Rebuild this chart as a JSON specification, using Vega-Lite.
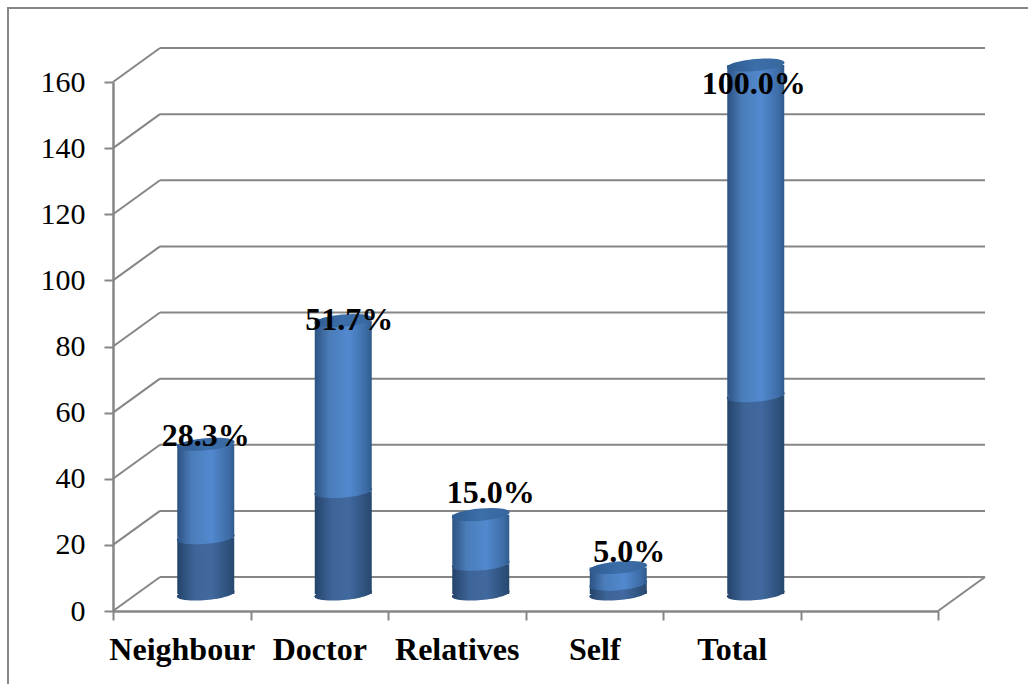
{
"$schema":"https://vega.github.io/schema/vega-lite/v6.json",
"width":825,"height":529,
"autosize":"none",
"padding":{"left":113,"top":82,"right":90,"bottom":73},
"background":"white",
"config":{"view":{"stroke":null}},
"datasets":{
"bars":[
{"name":"Neighbour","slot":0.5,"base":0,"count":17,"percent":28.3,"total":45.3,"label":"28.3%"},
{"name":"Doctor","slot":1.5,"base":0,"count":31,"percent":51.7,"total":82.7,"label":"51.7%"},
{"name":"Relatives","slot":2.5,"base":0,"count":9,"percent":15.0,"total":24,"label":"15.0%"},
{"name":"Self","slot":3.5,"base":0,"count":3,"percent":5.0,"total":8,"label":"5.0%"},
{"name":"Total","slot":4.5,"base":0,"count":60,"percent":100.0,"total":160,"label":"100.0%"}
],
"levels":[{"level":0,"start":0,"end":6},{"level":20,"start":0,"end":6},{"level":40,"start":0,"end":6},{"level":60,"start":0,"end":6},{"level":80,"start":0,"end":6},{"level":100,"start":0,"end":6},{"level":120,"start":0,"end":6},{"level":140,"start":0,"end":6},{"level":160,"start":0,"end":6}]
},
"layer":[
{"mark":{"type":"rect","fill":"transparent","stroke":"#868686","strokeWidth":2},
 "data":{"values":[{"a":-0.7636,"b":6.8,"c":182.4,"d":-24}]},
 "encoding":{
  "x":{"field":"a","type":"quantitative","scale":{"domain":[0,6],"range":[0,825],"nice":false,"zero":false,"padding":0},
    "axis":{"values":[0,0.5,1,1.5,2,2.5,3,3.5,4,4.5,5,5.5,6],"title":null,"grid":false,"domain":true,"domainColor":"#868686","domainWidth":2.5,
      "tickColor":"#868686","tickWidth":2,"tickSize":9,"tickOpacity":{"expr":"datum.value % 1 === 0 ? 1 : 0"},
      "labelExpr":"datum.value==0.5?'Neighbour':datum.value==1.5?'Doctor':datum.value==2.5?'Relatives':datum.value==3.5?'Self':datum.value==4.5?'Total':''",
      "labelFont":"Liberation Serif","labelFontWeight":"bold","labelFontSize":32,"labelColor":"black","labelPadding":39,"labelBaseline":"alphabetic","labelOverlap":false,"labelFlush":false,"labelAngle":0}},
  "x2":{"field":"b"},
  "y":{"field":"c","type":"quantitative","scale":{"domain":[0,160],"nice":false,"zero":false,"padding":0},
    "axis":{"values":[0,20,40,60,80,100,120,140,160],"title":null,"grid":false,"domain":true,"domainColor":"#868686","domainWidth":2.5,
      "tickColor":"#868686","tickWidth":2,"tickSize":9,
      "labelFont":"Liberation Serif","labelFontSize":30,"labelColor":"black","labelPadding":19,"labelOverlap":false,"labelFlush":false}},
  "y2":{"field":"d"}
 }},
{"data":{"name":"levels"},"mark":{"type":"rule","color":"#868686","strokeWidth":2,"xOffset":47,"x2Offset":47,"yOffset":-34},
 "encoding":{"x":{"field":"start","type":"quantitative"},"x2":{"field":"end"},"y":{"field":"level","type":"quantitative"}}},
{"data":{"name":"levels"},"mark":{"type":"rule","color":"#868686","strokeWidth":2,"x2Offset":47,"y2Offset":-34},
 "encoding":{"x":{"field":"start","type":"quantitative"},"x2":{"field":"start"},"y":{"field":"level","type":"quantitative"},"y2":{"field":"level"}}},
{"data":{"name":"levels"},"transform":[{"filter":"datum.level===0"}],"mark":{"type":"rule","color":"#868686","strokeWidth":2,"x2Offset":47,"y2Offset":-34},
 "encoding":{"x":{"field":"end","type":"quantitative"},"x2":{"field":"end"},"y":{"field":"level","type":"quantitative"},"y2":{"field":"level"}}},
{"data":{"name":"bars"},"mark":{"type":"point","filled":true,"opacity":1,"shape":"M-1,0 A1,0.21 0 1 0 1,0 A1,0.21 0 1 0 -1,0 Z","size":3364,"angle":-5,"xOffset":24,"yOffset":-17,
 "color":{"gradient":"linear","x1":0,"x2":1,"y1":0,"y2":0,"stops":[{"offset":0,"color":"#24436b"},{"offset":0.3,"color":"#3e6598"},{"offset":0.6,"color":"#41699f"},{"offset":1,"color":"#27486f"}]}},
 "encoding":{"x":{"field":"slot","type":"quantitative"},"y":{"field":"base","type":"quantitative"}}},
{"data":{"name":"bars"},"mark":{"type":"bar","width":57,"xOffset":24,"yOffset":-17,"y2Offset":-17,
 "color":{"gradient":"linear","x1":0,"x2":1,"y1":0,"y2":0,"stops":[{"offset":0,"color":"#24436b"},{"offset":0.3,"color":"#3e6598"},{"offset":0.6,"color":"#41699f"},{"offset":1,"color":"#27486f"}]}},
 "encoding":{"x":{"field":"slot","type":"quantitative"},"y":{"field":"base","type":"quantitative"},"y2":{"field":"count"}}},
{"data":{"name":"bars"},"mark":{"type":"point","filled":true,"opacity":1,"shape":"M-1,0 A1,0.21 0 1 0 1,0 A1,0.21 0 1 0 -1,0 Z","size":3364,"angle":-5,"xOffset":24,"yOffset":-17,
 "color":{"gradient":"linear","x1":0,"x2":1,"y1":0,"y2":0,"stops":[{"offset":0,"color":"#2c5283"},{"offset":0.25,"color":"#4a7cb8"},{"offset":0.6,"color":"#5289cf"},{"offset":0.9,"color":"#3d6ca6"},{"offset":1,"color":"#2f5a8c"}]}},
 "encoding":{"x":{"field":"slot","type":"quantitative"},"y":{"field":"count","type":"quantitative"}}},
{"data":{"name":"bars"},"mark":{"type":"bar","width":57,"xOffset":24,"yOffset":-17,"y2Offset":-17,
 "color":{"gradient":"linear","x1":0,"x2":1,"y1":0,"y2":0,"stops":[{"offset":0,"color":"#2c5283"},{"offset":0.25,"color":"#4a7cb8"},{"offset":0.6,"color":"#5289cf"},{"offset":0.9,"color":"#3d6ca6"},{"offset":1,"color":"#2f5a8c"}]}},
 "encoding":{"x":{"field":"slot","type":"quantitative"},"y":{"field":"count","type":"quantitative"},"y2":{"field":"total"}}},
{"data":{"name":"bars"},"mark":{"type":"point","filled":true,"opacity":1,"shape":"M-1,0 A1,0.21 0 1 0 1,0 A1,0.21 0 1 0 -1,0 Z","size":3364,"angle":-5,"xOffset":24,"yOffset":-17,
 "color":{"gradient":"linear","x1":0,"x2":1,"y1":0,"y2":0,"stops":[{"offset":0,"color":"#2f5b90"},{"offset":0.5,"color":"#3c6ea9"},{"offset":1,"color":"#38679e"}]}},
 "encoding":{"x":{"field":"slot","type":"quantitative"},"y":{"field":"total","type":"quantitative"}}},
{"data":{"name":"bars"},"transform":[{"filter":"datum.name==='Neighbour'"}],"mark":{"type":"text","font":"Liberation Serif","fontWeight":"bold","fontSize":32,"color":"black","baseline":"middle","dx":24,"dy":-25},
 "encoding":{"x":{"field":"slot","type":"quantitative"},"y":{"field":"total","type":"quantitative"},"text":{"field":"label"}}},
{"data":{"name":"bars"},"transform":[{"filter":"datum.name==='Doctor'"}],"mark":{"type":"text","font":"Liberation Serif","fontWeight":"bold","fontSize":32,"color":"black","baseline":"middle","dx":30,"dy":-18},
 "encoding":{"x":{"field":"slot","type":"quantitative"},"y":{"field":"total","type":"quantitative"},"text":{"field":"label"}}},
{"data":{"name":"bars"},"transform":[{"filter":"datum.name==='Relatives'"}],"mark":{"type":"text","font":"Liberation Serif","fontWeight":"bold","fontSize":32,"color":"black","baseline":"middle","dx":34,"dy":-39},
 "encoding":{"x":{"field":"slot","type":"quantitative"},"y":{"field":"total","type":"quantitative"},"text":{"field":"label"}}},
{"data":{"name":"bars"},"transform":[{"filter":"datum.name==='Self'"}],"mark":{"type":"text","font":"Liberation Serif","fontWeight":"bold","fontSize":32,"color":"black","baseline":"middle","dx":35,"dy":-33},
 "encoding":{"x":{"field":"slot","type":"quantitative"},"y":{"field":"total","type":"quantitative"},"text":{"field":"label"}}},
{"data":{"name":"bars"},"transform":[{"filter":"datum.name==='Total'"}],"mark":{"type":"text","font":"Liberation Serif","fontWeight":"bold","fontSize":32,"color":"black","baseline":"middle","dx":22,"dy":2},
 "encoding":{"x":{"field":"slot","type":"quantitative"},"y":{"field":"total","type":"quantitative"},"text":{"field":"label"}}}
]
}
